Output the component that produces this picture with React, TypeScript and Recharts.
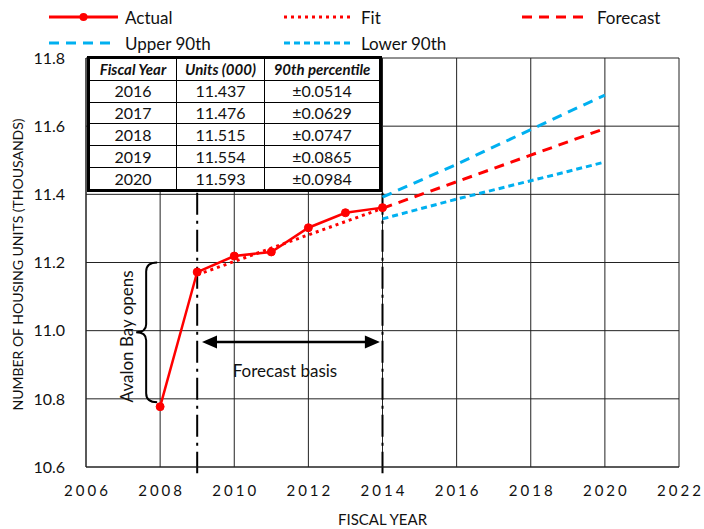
import React from 'react';
import { LineChart, Line, XAxis, YAxis, CartesianGrid, ReferenceLine } from 'recharts';

const FONT = 'Lato, "Open Sans", sans-serif';
const RED = '#FF0000';
const BLUE = '#00B0F0';

const years = [2008, 2009, 2010, 2011, 2012, 2013, 2014, 2015, 2016, 2017, 2018, 2019, 2020];
const actual = [10.777, 11.172, 11.219, 11.231, 11.302, 11.346, 11.361, null, null, null, null, null, null];
const fit = [null, 11.164, 11.203, 11.242, 11.281, 11.32, 11.359, null, null, null, null, null, null];
const forecast = [null, null, null, null, null, null, 11.359, null, 11.437, 11.476, 11.515, 11.554, 11.593];
const upper = [null, null, null, null, null, null, 11.392, null, 11.488, 11.539, 11.59, 11.641, 11.691];
const lower = [null, null, null, null, null, null, 11.328, null, 11.386, 11.413, 11.44, 11.467, 11.495];

const xTicks = [2006, 2008, 2010, 2012, 2014, 2016, 2018, 2020, 2022];
const yTicks = [10.6, 10.8, 11.0, 11.2, 11.4, 11.6, 11.8];

const tableYears = ['2016', '2017', '2018', '2019', '2020'];
const tableUnits = ['11.437', '11.476', '11.515', '11.554', '11.593'];
const tablePct = ['±0.0514', '±0.0629', '±0.0747', '±0.0865', '±0.0984'];
const tableHeaders = ['Fiscal Year', 'Units (000)', '90th percentile'];

const data = years.map((y, i) => ({
  year: y,
  actual: actual[i],
  fit: fit[i],
  forecast: forecast[i],
  upper: upper[i],
  lower: lower[i],
}));

const XTick = (props: any) => {
  const { x, y, payload } = props;
  return (
    <text x={x + 1.5} y={y} dy="0.71em" textAnchor="middle" fontSize={15} letterSpacing={3} fill="#111" fontFamily={FONT}>
      {payload.value}
    </text>
  );
};

const YLabel = (props: any) => {
  const vb = props.viewBox || { x: 0, y: 58, width: 86, height: 409 };
  const cy = vb.y + vb.height / 2 + 2;
  return (
    <text x={17} y={cy} transform={`rotate(-90, 17, ${cy})`} textAnchor="middle" dominantBaseline="central" fontSize={14} fill="#111" fontFamily={FONT}>
      NUMBER OF HOUSING UNITS (THOUSANDS)
    </text>
  );
};

const XLabel = (props: any) => {
  const vb = props.viewBox || { x: 86, y: 467, width: 593, height: 40 };
  const cx = vb.x + vb.width / 2;
  return (
    <text x={cx} y={vb.y + 52} textAnchor="middle" dominantBaseline="central" fontSize={15} fill="#111" fontFamily={FONT}>
      FISCAL YEAR
    </text>
  );
};

const BraceShape = (p: any) => {
  const { x1, y1, y2 } = p;
  const xr = x1;
  const xv = xr - 11;
  const xt = xr - 21;
  const ym = (y1 + y2) / 2;
  const d = `M ${xr} ${y1} Q ${xv} ${y1} ${xv} ${y1 + 9} L ${xv} ${ym - 8} Q ${xv} ${ym} ${xt} ${ym} Q ${xv} ${ym} ${xv} ${ym + 8} L ${xv} ${y2 - 9} Q ${xv} ${y2} ${xr} ${y2}`;
  const tx = xt - 10;
  return (
    <g>
      <path d={d} stroke="#000" strokeWidth={2} fill="none" />
      <text x={tx} y={ym + 4} transform={`rotate(-90, ${tx}, ${ym + 4})`} textAnchor="middle" dominantBaseline="central" fontSize={17} fill="#111" fontFamily={FONT}>
        Avalon Bay opens
      </text>
    </g>
  );
};

const ArrowShape = (p: any) => {
  const { x1, y1, x2 } = p;
  const y = y1;
  const hl = 15;
  const hh = 6.5;
  return (
    <g>
      <line x1={x1 + hl - 2} y1={y} x2={x2 - hl + 2} y2={y} stroke="#000" strokeWidth={2.5} />
      <polygon points={`${x1},${y} ${x1 + hl},${y - hh} ${x1 + hl},${y + hh}`} fill="#000" />
      <polygon points={`${x2},${y} ${x2 - hl},${y - hh} ${x2 - hl},${y + hh}`} fill="#000" />
      <text x={(x1 + x2) / 2 - 6} y={y + 29} textAnchor="middle" dominantBaseline="central" fontSize={17} fill="#111" fontFamily={FONT}>
        Forecast basis
      </text>
    </g>
  );
};

const legendRows = [
  [
    { name: 'Actual', color: RED, dash: undefined, x1: 49, x2: 118, tx: 125, dot: true },
    { name: 'Fit', color: RED, dash: '3 4', x1: 284, x2: 353, tx: 361, dot: false },
    { name: 'Forecast', color: RED, dash: '10 7', x1: 522, x2: 585, tx: 597, dot: false },
  ],
  [
    { name: 'Upper 90th', color: BLUE, dash: '10 7', x1: 49, x2: 112, tx: 125, dot: false },
    { name: 'Lower 90th', color: BLUE, dash: '6 4', x1: 284, x2: 353, tx: 361, dot: false },
  ],
];
const legendY = [17, 43];

const cellStyle: React.CSSProperties = {
  border: '1.5px solid #000',
  textAlign: 'center',
  padding: 0,
  fontSize: 16,
  lineHeight: '18px',
  color: '#111',
  whiteSpace: 'nowrap',
  overflow: 'hidden',
};

export default function App() {
  return (
    <div style={{ position: 'absolute', left: 0, top: 0, width: 704, height: 529, background: '#fff', fontFamily: FONT }}>
      <LineChart width={704} height={529} data={data} margin={{ top: 58, right: 25, bottom: 22, left: 0 }}>
        <CartesianGrid stroke="#222" strokeWidth={1} />
        <XAxis
          dataKey="year"
          type="number"
          domain={[2006, 2022]}
          ticks={xTicks}
          interval={0}
          tick={<XTick />}
          tickLine={false}
          tickSize={0}
          tickMargin={18}
          axisLine={{ stroke: '#222' }}
          height={40}
          label={<XLabel />}
        />
        <YAxis
          type="number"
          domain={[10.6, 11.8]}
          ticks={yTicks}
          interval={0}
          width={86}
          tickLine={false}
          tickSize={0}
          tickMargin={21}
          axisLine={{ stroke: '#222' }}
          tick={{ fontSize: 16, fill: '#111', fontFamily: FONT }}
          tickFormatter={(v: number) => v.toFixed(1)}
          label={<YLabel />}
        />
        <ReferenceLine
          segment={[{ x: 2009, y: 11.405 }, { x: 2009, y: 10.582 }]}
          ifOverflow="visible"
          stroke="#000"
          strokeWidth={2}
          strokeDasharray="22 6 3 6"
        />
        <ReferenceLine
          segment={[{ x: 2014, y: 11.405 }, { x: 2014, y: 10.582 }]}
          ifOverflow="visible"
          stroke="#000"
          strokeWidth={2}
          strokeDasharray="22 6 3 6"
        />
        <ReferenceLine
          segment={[{ x: 2007.92, y: 11.2 }, { x: 2007.92, y: 10.79 }]}
          ifOverflow="visible"
          shape={(p: any) => <BraceShape {...p} />}
        />
        <ReferenceLine
          segment={[{ x: 2009.13, y: 10.967 }, { x: 2013.93, y: 10.967 }]}
          ifOverflow="visible"
          shape={(p: any) => <ArrowShape {...p} />}
        />
        <Line dataKey="fit" stroke={RED} strokeWidth={3} strokeDasharray="3 4" dot={false} connectNulls isAnimationActive={false} />
        <Line dataKey="forecast" stroke={RED} strokeWidth={3} strokeDasharray="10 7" dot={false} connectNulls isAnimationActive={false} />
        <Line dataKey="upper" stroke={BLUE} strokeWidth={3} strokeDasharray="10 7" dot={false} connectNulls isAnimationActive={false} />
        <Line dataKey="lower" stroke={BLUE} strokeWidth={3} strokeDasharray="6 4" dot={false} connectNulls isAnimationActive={false} />
        <Line
          dataKey="actual"
          stroke={RED}
          strokeWidth={2.5}
          dot={{ r: 4, fill: RED, stroke: RED, strokeWidth: 1 }}
          isAnimationActive={false}
        />
      </LineChart>

      <svg width={704} height={56} style={{ position: 'absolute', left: 0, top: 0 }}>
        {legendRows.map((row, ri) =>
          row.map((it) => (
            <g key={it.name}>
              <line x1={it.x1} y1={legendY[ri]} x2={it.x2} y2={legendY[ri]} stroke={it.color} strokeWidth={3} strokeDasharray={it.dash} />
              {it.dot && <circle cx={(it.x1 + it.x2) / 2} cy={legendY[ri]} r={4} fill={it.color} />}
              <text x={it.tx} y={legendY[ri]} dominantBaseline="central" fontSize={17} fill="#111" fontFamily={FONT}>
                {it.name}
              </text>
            </g>
          ))
        )}
      </svg>

      <div style={{ position: 'absolute', left: 87, top: 56, width: 292, height: 136, background: '#fff' }}>
        <table
          style={{
            width: '100%',
            height: '100%',
            borderCollapse: 'collapse',
            tableLayout: 'fixed',
            border: '3px solid #000',
            fontFamily: FONT,
          }}
        >
          <colgroup>
            <col style={{ width: 88 }} />
            <col style={{ width: 88 }} />
            <col style={{ width: 116 }} />
          </colgroup>
          <tbody>
            <tr>
              {tableHeaders.map((h) => (
                <td key={h} style={{ ...cellStyle, fontWeight: 700, fontStyle: 'italic', fontSize: 15 }}>
                  {h}
                </td>
              ))}
            </tr>
            {tableYears.map((y, i) => (
              <tr key={y}>
                <td style={cellStyle}>{y}</td>
                <td style={cellStyle}>{tableUnits[i]}</td>
                <td style={cellStyle}>{tablePct[i]}</td>
              </tr>
            ))}
          </tbody>
        </table>
      </div>
    </div>
  );
}
